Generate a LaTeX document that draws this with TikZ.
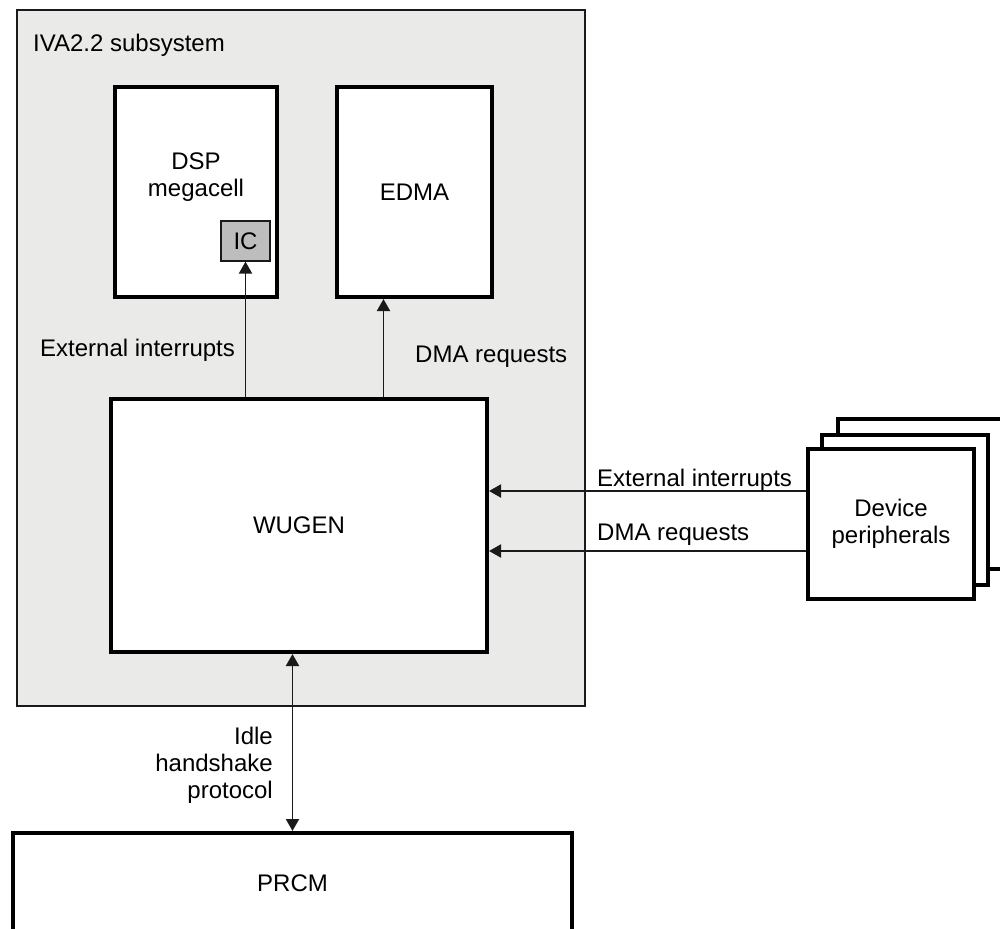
\documentclass[tikz,border=0pt]{standalone}
\usepackage{fontspec}
\setmainfont{Liberation Sans}
\usetikzlibrary{arrows.meta,positioning,calc}
\definecolor{SubGray}{HTML}{EAEAE8}
\definecolor{ICGray}{HTML}{BDBDBD}
\definecolor{LineDark}{HTML}{1A1A1A}

\begin{document}
\begin{tikzpicture}[
    x=1pt, y=-1pt,
    font=\fontsize{24}{27}\selectfont,
    block/.style={draw=black, fill=white, line width=4pt, align=center, inner sep=0pt},
    sig/.style={-{Triangle[length=12pt,width=13pt]}, line width=1.9pt, color=LineDark},
    lbl/.style={inner sep=0pt, anchor=west}
]
  \useasboundingbox (0,0) rectangle (1000,928);

  % -------------------------------------------------------------
  % IVA2.2 SUBSYSTEM
  % -------------------------------------------------------------
  \node[draw=LineDark, fill=SubGray, line width=2.2pt, minimum width=568pt, minimum height=696pt] (iva) at (301,358) {};
  \node[lbl] (iva_t) at (33,45) {IVA2.2 subsystem};

  % DSP + EDMA
  \node[block, minimum width=162pt, minimum height=210pt] (dsp) at (196,192) {};
  \node[align=center, inner sep=0pt] (dsp_t) at (196,177) {DSP\\megacell};
  \node[draw=LineDark, fill=ICGray, line width=1.2pt, minimum width=49pt, minimum height=40pt, inner sep=0pt] (ic) at (245.5,241) {IC};
  \node[block, minimum width=155pt, minimum height=210pt] (edma) at (414.5,192) {EDMA};

  % WUGEN
  \node[block, minimum width=376pt, minimum height=253pt] (wugen) at (299,525.5) {WUGEN};

  \coordinate (dma_up) at ([xshift=-31pt]edma.south);
  \draw[sig] (wugen.north -| ic) -- (ic.south);
  \draw[sig] (wugen.north -| dma_up) -- (dma_up);
  \node[lbl] (ei_in) at (40,350) {External interrupts};
  \node[lbl] (dma_in) at (415,357) {DMA requests};

  % -------------------------------------------------------------
  % DEVICE PERIPHERALS (stack)
  % -------------------------------------------------------------
  \node[block, minimum width=166pt, minimum height=150pt] (dev3) at (921,494) {};
  \node[block, minimum width=166pt, minimum height=150pt] (dev2) at (905,510) {};
  \node[block, minimum width=166pt, minimum height=150pt] (dev) at (891,524) {Device\\peripherals};

  \coordinate (ei_src) at ([yshift=33pt]dev.west);
  \coordinate (dma_src) at ([yshift=-27pt]dev.west);
  \draw[sig] (ei_src) -- (wugen.east |- ei_src);
  \draw[sig] (dma_src) -- (wugen.east |- dma_src);
  \node[lbl] (ei_out) at (597,480) {External interrupts};
  \node[lbl] (dma_out) at (597,535) {DMA requests};

  % -------------------------------------------------------------
  % PRCM
  % -------------------------------------------------------------
  \node[block, minimum width=559pt, minimum height=100pt] (prcm) at (292.5,883) {PRCM};
  \draw[sig, {Triangle[length=12pt,width=13pt]}-{Triangle[length=12pt,width=13pt]}] (wugen.south -| prcm) -- (prcm.north);
  \node[align=right, anchor=east, inner sep=0pt] (idle_t) at (273,765) {Idle\\handshake\\protocol};

\end{tikzpicture}
\end{document}
